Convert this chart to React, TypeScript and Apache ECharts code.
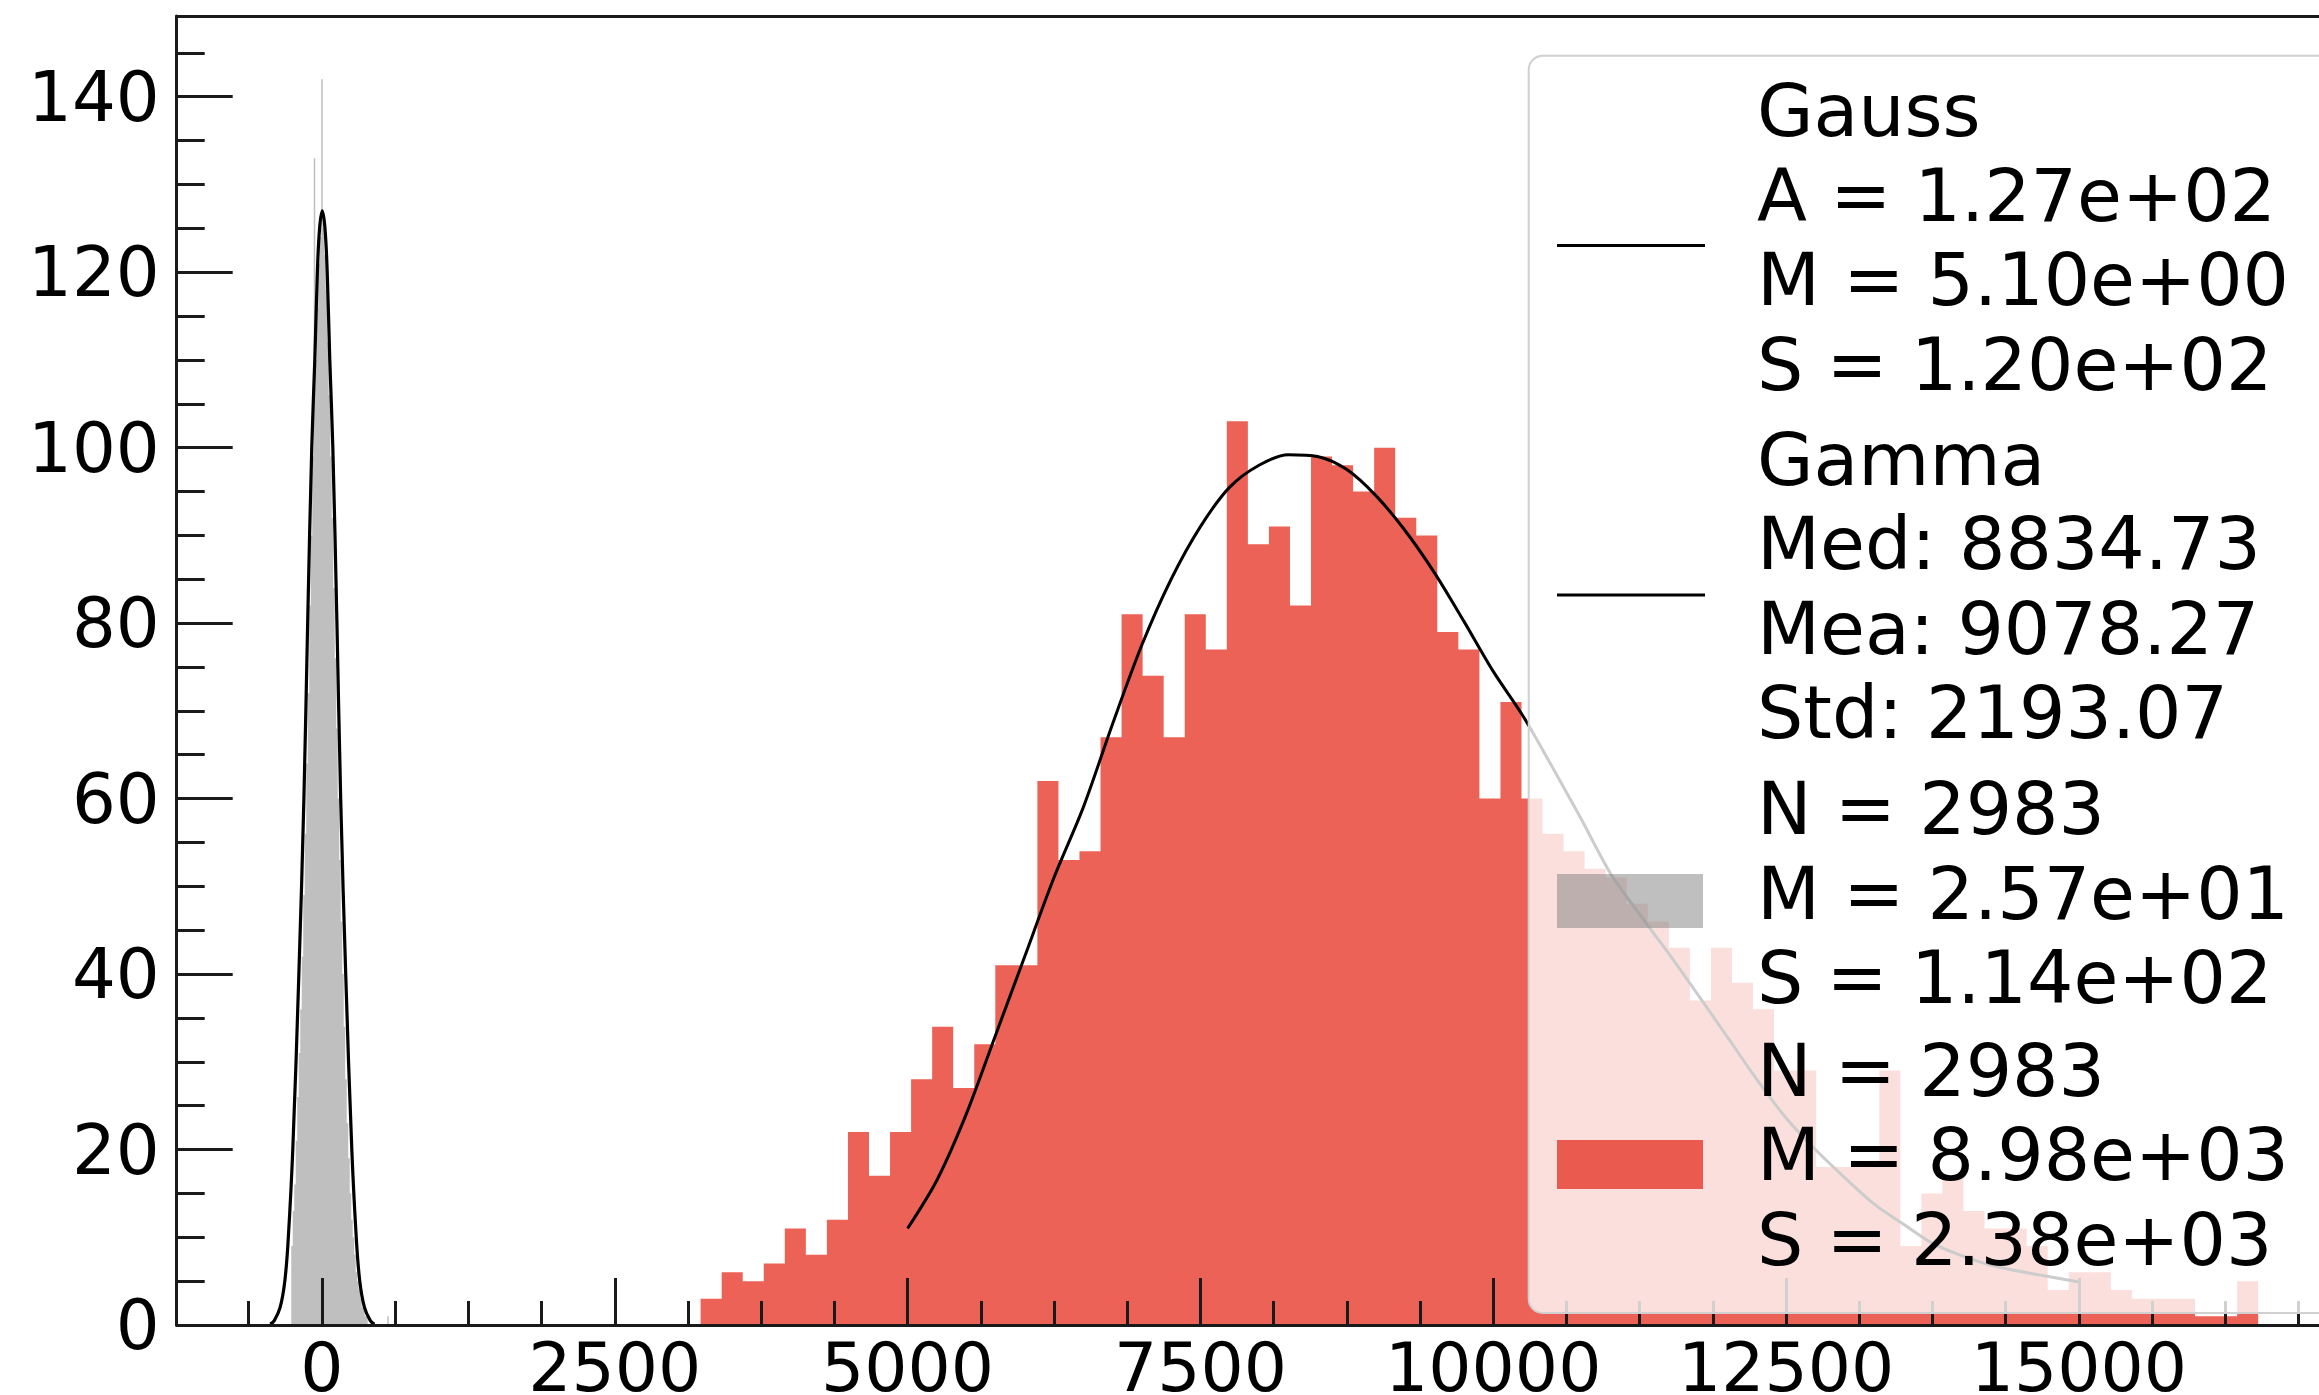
import React, { useEffect, useRef } from 'react';
import * as echarts from 'echarts';

// ---------------- data ----------------
// red histogram (bins of equal width, left edge of first bin)
const redStart = 3233;
const redWidth = 179.7;
const redCounts = [
  3, 6, 5, 7, 11, 8, 12, 22, 17, 22,
  28, 34, 27, 32, 41, 41, 62, 53, 54, 67,
  81, 74, 67, 81, 77, 103, 89, 91, 82, 99,
  98, 95, 100, 92, 90, 79, 77, 60, 71, 60,
  56, 54, 52, 51, 48, 46, 43, 37, 43, 39,
  36, 29, 29, 18, 18, 18, 29, 9, 15, 17,
  13, 11, 11, 9, 4, 6, 6, 4, 3, 3,
  3, 1, 1, 5,
];

// gray histogram
const grayStart = -262;
const grayWidth = 12.8;
const grayCounts = [
  9, 13, 16, 21, 26, 31, 36, 42, 49, 56,
  64, 72, 82, 90, 99, 133, 110, 116, 121, 124,
  142, 125, 122, 118, 112, 106, 99, 92, 84, 76,
  68, 60, 53, 46, 40, 34, 28, 23, 19, 15,
  12, 10, 8, 6, 5, 4, 3, 2, 2, 1,
  1, 0, 0, 0, 0, 0, 0, 0, 0, 0,
  0, 0, 0, 0, 1,
];

// Gauss fit curve
const gaussX = [-442, -407, -357, -317, -287, -249, -197, -154, -122, -87, -61, -39, -20, 3, 26, 45, 67, 93, 128, 160, 203, 255, 293, 323, 363, 413, 448];
const gaussY = [0.1, 0.5, 2, 5, 10, 20, 40, 60, 80, 100, 110, 120, 125, 127, 125, 120, 110, 100, 80, 60, 40, 20, 10, 5, 2, 0.5, 0.1];

// Gamma fit curve
const gammaX = [5000, 5250, 5500, 5750, 6000, 6250, 6500, 6750, 7000, 7250, 7500, 7750, 8000, 8250, 8500, 8750, 9000, 9250, 9500, 9750, 10000, 10250, 10500, 10750, 11000, 11250, 11500, 11750, 12000, 12250, 12500, 12750, 13000, 13250, 13500, 13750, 14000, 14250, 14500, 14750, 15000];
const gammaY = [11, 16.5, 24, 33, 42, 51, 59, 68.5, 77.5, 85, 91, 95.5, 98, 99.2, 99, 97.5, 94.5, 90.5, 85.7, 80.2, 74.5, 69.5, 63.7, 57.7, 51.5, 46.8, 42.3, 37.6, 32.8, 28, 23.6, 20, 16.8, 13.8, 11.5, 9.3, 7.9, 6.8, 6.1, 5.5, 4.9];

// axes
const xMin = -1240;
const xMax = 17050;
const yMin = 0;
const yMax = 149.2;
const xMajorTicks = [0, 2500, 5000, 7500, 10000, 12500, 15000];
const xMinorTicks = [-625, 625, 1250, 1875, 3125, 3750, 4375, 5625, 6250, 6875, 8125, 8750, 9375, 10625, 11250, 11875, 13125, 13750, 14375, 15625, 16250, 16875];
const yMajorTicks = [0, 20, 40, 60, 80, 100, 120, 140];
const yMinorTicks = [5, 10, 15, 25, 30, 35, 45, 50, 55, 65, 70, 75, 85, 90, 95, 105, 110, 115, 125, 130, 135, 145];

// legend texts
const legendGauss = ['Gauss', 'A = 1.27e+02', 'M = 5.10e+00', 'S = 1.20e+02'];
const legendGamma = ['Gamma', 'Med: 8834.73', 'Mea: 9078.27', 'Std: 2193.07'];
const legendGray = ['N = 2983', 'M = 2.57e+01', 'S = 1.14e+02'];
const legendRed = ['N = 2983', 'M = 8.98e+03', 'S = 2.38e+03'];

// ---------------- styling ----------------
const FONT = 'DejaVu Sans';
const AXIS_COLOR = '#1a1a1a';
const RED = '#ec6257';
const GRAY = 'rgba(128,128,128,0.5)';

function stepData(start: number, width: number, counts: number[]) {
  const pts: number[][] = counts.map((c, i) => [start + i * width, c]);
  pts.push([start + counts.length * width, counts[counts.length - 1]]);
  return pts;
}

function zip(xs: number[], ys: number[]) {
  return xs.map((x, i) => [x, ys[i]]);
}

export default function App() {
  const ref = useRef<HTMLDivElement>(null);

  useEffect(() => {
    if (!ref.current) return;
    const chart = echarts.init(ref.current, undefined, { renderer: 'svg' });

    const gridLeft = 176.7;
    const gridTop = 16;
    const gridBottomY = 1325;

    const legendX = 1528.7;
    const legendY = 55.8;
    const legendBottom = 1313;
    const textX = 1757;
    const lineStep = 84.5;
    const entryTops = [110.7, 459.4, 808.8, 1070];
    const entries = [legendGauss, legendGamma, legendGray, legendRed];

    const textEls: any[] = [];
    entries.forEach((lines, ei) => {
      lines.forEach((t, li) => {
        textEls.push({
          type: 'text',
          z: 102,
          style: {
            text: t,
            x: textX,
            y: entryTops[ei] + li * lineStep,
            fontSize: 73,
            fontFamily: FONT,
            fill: '#000',
            align: 'left',
            verticalAlign: 'middle',
          },
        });
      });
    });

    const option: any = {
      animation: false,
      backgroundColor: '#fff',
      textStyle: { fontFamily: FONT },
      grid: {
        left: gridLeft,
        top: gridTop,
        right: 0,
        bottom: 1395 - gridBottomY,
        containLabel: false,
        outerBoundsMode: 'none',
      },
      xAxis: [
        {
          type: 'value',
          min: xMin,
          max: xMax,
          position: 'bottom',
          z: 10,
          axisLine: { show: true, onZero: false, lineStyle: { color: AXIS_COLOR, width: 3 } },
          axisTick: { show: true, inside: true, length: 47, lineStyle: { color: AXIS_COLOR, width: 3 }, customValues: xMajorTicks },
          axisLabel: {
            show: true,
            customValues: xMajorTicks,
            margin: 8,
            fontSize: 68,
            color: '#000',
            fontFamily: FONT,
            formatter: (v: number) => String(v),
          },
          splitLine: { show: false },
        },
        {
          type: 'value',
          min: xMin,
          max: xMax,
          position: 'bottom',
          z: 10,
          axisLine: { show: false, onZero: false },
          axisTick: { show: true, inside: true, length: 24, lineStyle: { color: AXIS_COLOR, width: 3 }, customValues: xMinorTicks },
          axisLabel: { show: false },
          splitLine: { show: false },
        },
        {
          type: 'value',
          min: xMin,
          max: xMax,
          position: 'top',
          z: 10,
          axisLine: { show: true, onZero: false, lineStyle: { color: AXIS_COLOR, width: 3 } },
          axisTick: { show: false },
          axisLabel: { show: false },
          splitLine: { show: false },
        },
      ],
      yAxis: [
        {
          type: 'value',
          min: yMin,
          max: yMax,
          position: 'left',
          z: 10,
          axisLine: { show: true, onZero: false, lineStyle: { color: AXIS_COLOR, width: 3 } },
          axisTick: { show: true, inside: true, length: 56, lineStyle: { color: AXIS_COLOR, width: 3 }, customValues: yMajorTicks },
          axisLabel: {
            show: true,
            customValues: yMajorTicks,
            margin: 17,
            fontSize: 69,
            color: '#000',
            fontFamily: FONT,
            formatter: (v: number) => String(v),
          },
          splitLine: { show: false },
        },
        {
          type: 'value',
          min: yMin,
          max: yMax,
          position: 'left',
          z: 10,
          axisLine: { show: false, onZero: false },
          axisTick: { show: true, inside: true, length: 28, lineStyle: { color: AXIS_COLOR, width: 3 }, customValues: yMinorTicks },
          axisLabel: { show: false },
          splitLine: { show: false },
        },
      ],
      series: [
        {
          type: 'line',
          name: 'red',
          xAxisIndex: 0,
          yAxisIndex: 0,
          data: stepData(redStart, redWidth, redCounts),
          step: 'end',
          symbol: 'none',
          silent: true,
          z: 2,
          lineStyle: { width: 0 },
          areaStyle: { color: RED, opacity: 1 },
        },
        {
          type: 'line',
          name: 'gray',
          xAxisIndex: 0,
          yAxisIndex: 0,
          data: stepData(grayStart, grayWidth, grayCounts),
          step: 'end',
          symbol: 'none',
          silent: true,
          z: 2,
          lineStyle: { width: 0 },
          areaStyle: { color: GRAY, opacity: 1 },
        },
        {
          type: 'line',
          name: 'gamma',
          xAxisIndex: 0,
          yAxisIndex: 0,
          data: zip(gammaX, gammaY),
          smooth: 0.3,
          symbol: 'none',
          silent: true,
          z: 3,
          lineStyle: { color: '#000', width: 3 },
        },
        {
          type: 'line',
          name: 'gauss',
          xAxisIndex: 0,
          yAxisIndex: 0,
          data: zip(gaussX, gaussY),
          smooth: 0.4,
          symbol: 'none',
          silent: true,
          z: 3,
          lineStyle: { color: '#000', width: 3.2 },
        },
      ],
      graphic: [
        {
          type: 'rect',
          z: 100,
          shape: { x: legendX, y: legendY, width: 1000, height: legendBottom - legendY, r: 14 },
          style: { fill: 'rgba(255,255,255,0.8)', stroke: '#d0d0d0', lineWidth: 2 },
        },
        {
          type: 'line',
          z: 101,
          shape: { x1: 1557, y1: 245.5, x2: 1705, y2: 245.5 },
          style: { stroke: '#000', lineWidth: 3 },
        },
        {
          type: 'line',
          z: 101,
          shape: { x1: 1557, y1: 595, x2: 1705, y2: 595 },
          style: { stroke: '#000', lineWidth: 3 },
        },
        {
          type: 'rect',
          z: 101,
          shape: { x: 1557, y: 874, width: 146, height: 54 },
          style: { fill: GRAY },
        },
        {
          type: 'rect',
          z: 101,
          shape: { x: 1557, y: 1140, width: 146, height: 49 },
          style: { fill: '#ea5a4e' },
        },
        ...textEls,
      ],
    };

    chart.setOption(option);
    return () => {
      chart.dispose();
    };
  }, []);

  return (
    <div
      ref={ref}
      style={{
        position: 'fixed',
        left: 0,
        top: 0,
        width: 2319,
        height: 1395,
        overflow: 'hidden',
        background: '#fff',
      }}
    />
  );
}
